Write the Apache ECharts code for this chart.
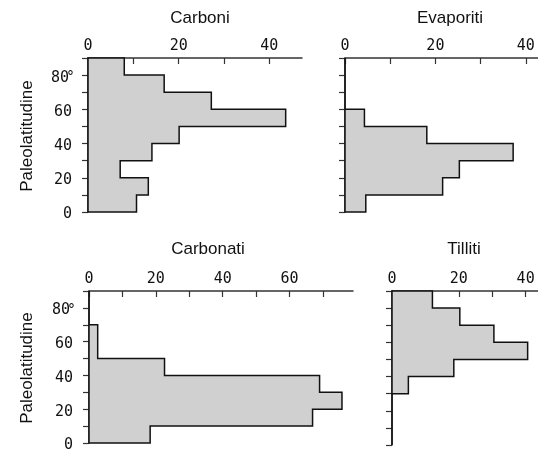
<!DOCTYPE html>
<html>
<head>
<meta charset="utf-8">
<script src="https://cdn.jsdelivr.net/npm/echarts@6/dist/echarts.min.js"></script>
<style>
html,body{margin:0;padding:0;background:#fff;}
#chart{width:538px;height:453px;}
</style>
</head>
<body>
<div id="chart"></div>
<script>
// ---- data ----
const latEdges = [0, 10, 20, 30, 40, 50, 60, 70, 80, 90];
const titles = ['Carboni', 'Evaporiti', 'Carbonati', 'Tilliti'];
const carboni   = [10.7, 13.3, 7.1, 14.1, 20.1, 43.6, 27.2, 16.8, 8.0];
const evaporiti = [4.6, 21.6, 25.3, 37.2, 18.1, 4.3, 0, 0, 0];
const carbonati = [18.3, 66.9, 75.7, 69.0, 22.6, 2.6, 2.6, 0, 0];
const tilliti   = [0, 0, 0, 4.9, 18.5, 40.6, 30.5, 20.3, 12.1];
const xMaxes = [47.2, 42.7, 79, 43.7];
const xTickVals = [[0, 10, 20, 30, 40], [0, 10, 20, 30, 40], [0, 10, 20, 30, 40, 50, 60, 70], [0, 10, 20, 30, 40]];
const xLabelVals = [[0, 20, 40], [0, 20, 40], [0, 20, 40, 60], [0, 20, 40]];
const yTickVals = [0, 10, 20, 30, 40, 50, 60, 70, 80, 90];
const yLabelVals = [0, 20, 40, 60, 80];
const yAxisTitle = 'Paleolatitudine';
const seriesValues = [carboni, evaporiti, carbonati, tilliti];

// ---- layout ----
const grids = [
  {left: 88, top: 58, width: 214, height: 154},
  {left: 345, top: 58, width: 193, height: 154},
  {left: 89, top: 291, width: 264, height: 154},
  {left: 392, top: 291, width: 146, height: 154}
];
const showYLabels = [true, false, true, false];
const titlePos = [[200, 18], [450, 18], [208, 249], [464, 249]];
const yTitlePos = [[27, 136], [27, 368]];

const axisColor = '#333';
const textColor = '#111';
const monoFont = 'DejaVu Sans Mono';

const xAxes = [], yAxes = [], series = [];
grids.forEach((g, i) => {
  xAxes.push({
    type: 'value', gridIndex: i, position: 'top', min: 0, max: xMaxes[i],
    axisLine: {show: true, onZero: false, lineStyle: {color: axisColor, width: 1.5}},
    axisTick: {show: true, inside: true, length: 6, customValues: xTickVals[i], lineStyle: {color: axisColor, width: 1.2}},
    axisLabel: {show: true, customValues: xLabelVals[i], margin: 4, color: textColor, fontFamily: monoFont, fontSize: 15},
    splitLine: {show: false}
  });
  yAxes.push({
    type: 'value', gridIndex: i, position: 'left', min: 0, max: 90,
    axisLine: {show: true, onZero: false, lineStyle: {color: axisColor, width: 1.5}},
    axisTick: {show: true, inside: false, length: 6, customValues: yTickVals, lineStyle: {color: axisColor, width: 1.2}},
    axisLabel: {
      show: showYLabels[i], customValues: yLabelVals, margin: 16, color: textColor,
      fontFamily: monoFont, fontSize: 15, padding: [5, 0, 0, 0],
      formatter: v => (v === 80 ? '80{d|°}' : String(v)),
      rich: {d: {width: 3, align: 'left', fontFamily: monoFont, fontSize: 14, color: textColor}}
    },
    splitLine: {show: false}
  });
});

seriesValues.forEach((vals, i) => {
  // step outline vertices built from the bin values and latitude edges
  const pts = [[0, latEdges[0]]];
  vals.forEach((v, k) => {
    pts.push([v, latEdges[k]]);
    pts.push([v, latEdges[k + 1]]);
  });
  pts.push([0, latEdges[latEdges.length - 1]]);
  series.push({
    type: 'custom', coordinateSystem: 'cartesian2d', xAxisIndex: i, yAxisIndex: i,
    data: pts, encode: {x: 0, y: 1}, silent: true, z: 3,
    renderItem: (params, api) => {
      if (params.dataIndex !== 0) return null;
      return {
        type: 'polygon',
        shape: {points: pts.map(p => api.coord(p))},
        style: {fill: '#d0d0d0', stroke: '#111', lineWidth: 1.5, lineJoin: 'miter'}
      };
    }
  });
});

const graphics = [];
titles.forEach((t, i) => {
  graphics.push({
    type: 'text', x: titlePos[i][0], y: titlePos[i][1],
    style: {text: t, textAlign: 'center', textVerticalAlign: 'middle', fontFamily: 'Liberation Sans', fontSize: 17, fill: textColor}
  });
});
yTitlePos.forEach(p => {
  graphics.push({
    type: 'text', x: p[0], y: p[1], rotation: Math.PI / 2,
    style: {text: yAxisTitle, textAlign: 'center', textVerticalAlign: 'middle', fontFamily: 'Liberation Sans', fontSize: 17, fill: textColor}
  });
});

const chart = echarts.init(document.getElementById('chart'), null, {renderer: 'canvas'});
chart.setOption({
  animation: false,
  backgroundColor: '#fff',
  grid: grids,
  xAxis: xAxes,
  yAxis: yAxes,
  series: series,
  graphic: graphics
});
</script>
</body>
</html>
